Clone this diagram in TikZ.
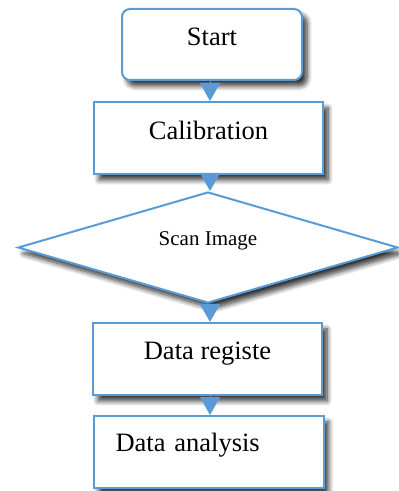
\documentclass[tikz,border=0pt]{standalone}
\usepackage{fontspec}
\setmainfont{Liberation Serif}
\usepackage{xcolor}
\definecolor{flowblue}{RGB}{91,155,213}
\usepackage{tikz}
\usetikzlibrary{arrows.meta, shapes.geometric, shadows.blur}

\begin{document}
\begin{tikzpicture}[
  x=1pt, y=1pt,
  shade/.style={blur shadow={shadow xshift=5pt, shadow yshift=-6pt, shadow blur radius=5pt, shadow blur steps=8, shadow opacity=80}},
  box/.style={rectangle, draw=flowblue, line width=2pt, fill=white, shade, inner sep=0pt,
    minimum width=229pt, minimum height=72pt, font=\fontsize{26.5}{30}\selectfont, text height=18pt, text depth=15pt},
  startbox/.style={box, rounded corners=8pt, minimum width=180pt, minimum height=71pt},
  decision/.style={diamond, draw=flowblue, line width=2pt, fill=white, shade, inner sep=0pt, shape aspect=3.4,
    minimum width=380pt, minimum height=111pt, font=\fontsize{21}{24}\selectfont, text height=14pt, text depth=17pt},
  flow/.style={draw=flowblue, line width=1pt, -{Triangle[length=18pt, width=20pt]}, color=flowblue},
]
  \useasboundingbox (0,0) rectangle (399,491);

  % boxes
  \node[startbox] (start) at (212, 446.5) {Start};
  \node[box] (calib) at (208.5, 353) {Calibration};
  \node[decision] (scan) at (208, 243.5) {Scan Image};
  \node[box, text depth=16pt] (reg) at (207.5, 132) {Data registe};
  \node[box, minimum width=230pt, text width=186pt, inner xsep=22pt, align=left, text depth=18pt] (ana) at (208.5, 39) {Data analysis};

  % arrows
  \coordinate (axis) at (210, 0);
  \draw[flow] (start.south -| axis) -- (calib.north -| axis);
  \draw[flow] (calib.south -| axis) -- (scan.north -| axis);
  \draw[flow] (scan.south -| axis) -- (reg.north -| axis);
  \draw[flow] (reg.south -| axis) -- (ana.north -| axis);
\end{tikzpicture}
\end{document}
